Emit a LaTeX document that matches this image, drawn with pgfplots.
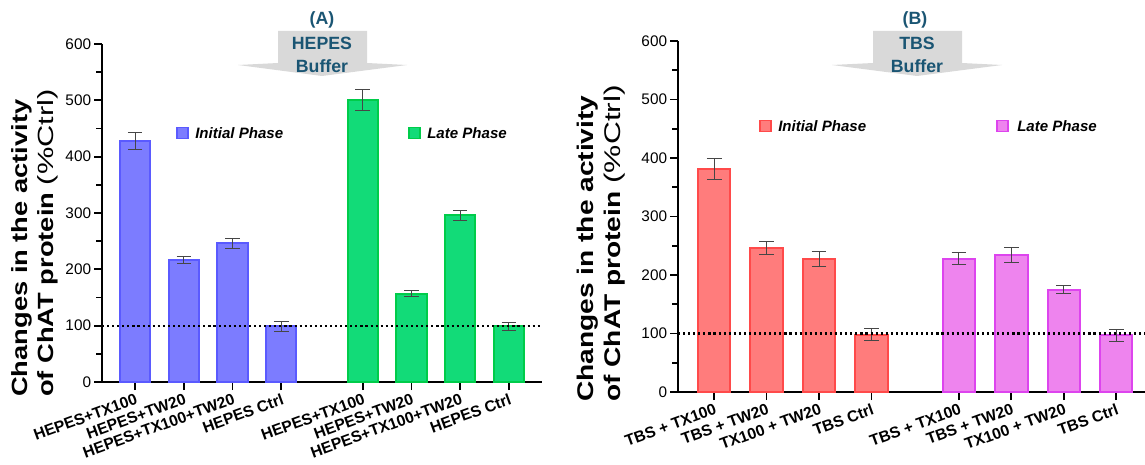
\documentclass[border=0pt]{standalone}
\usepackage{fontspec}
\setmainfont{Liberation Sans}
\newfontfamily\widefont[FakeStretch=1.24]{Liberation Sans}
\newfontfamily\widereg[FakeStretch=1.4]{Liberation Sans}
\usepackage{pgfplots}
\pgfplotsset{compat=1.18}
\definecolor{blueF}{HTML}{7C7CFF}
\definecolor{blueE}{HTML}{5A5AFF}
\definecolor{greenF}{HTML}{12DB78}
\definecolor{greenE}{HTML}{00CC4A}
\definecolor{redF}{HTML}{FF7C7C}
\definecolor{redE}{HTML}{FF4A4A}
\definecolor{magF}{HTML}{EE84EE}
\definecolor{magE}{HTML}{DD44EE}
\definecolor{teal}{RGB}{26,85,115}
\definecolor{bann}{RGB}{217,217,217}
\definecolor{errc}{RGB}{70,70,70}

\pgfplotstableread{
x y e
0 428 15
1 217 6
2 246 9
3 99 9
}\AInit
\pgfplotstableread{
x y e
4.67 501 19
5.67 157 5
6.67 296 9
7.67 99 7
}\ALate
\pgfplotstableread{
x y e
0 381 18
1 246 11
2 227 13
3 98 10
}\BInit
\pgfplotstableread{
x y e
4.67 228 10
5.67 234 13
6.67 175 7
7.67 97 10
}\BLate

\pgfplotsset{
  panel/.style={
    scale only axis, anchor=south west, clip=false,
    axis x line*=bottom, axis y line*=left,
    axis line style={line width=1.6pt,-},
    ymin=0, ymax=600, ytick={0,100,...,600}, minor ytick={50,150,...,550},
    tick align=outside, major tick length=6pt, minor tick length=4.5pt,
    tick style={line width=1.3pt, black},
    xtick={0,1,2,3,4.67,5.67,6.67,7.67},
    xticklabel style={rotate=20, anchor=north east, inner sep=1pt, yshift=-1pt,
      font=\bfseries\fontsize{11.8}{13}\selectfont},
    yticklabel style={font=\fontsize{11.5}{13}\selectfont, inner sep=2pt},
    /pgf/number format/assume math mode=true,
  },
  bars/.style={ybar, bar width=0.62, bar shift=0pt, line width=1.5pt,
    error bars/y dir=both, error bars/y explicit,
    error bars/error bar style={line width=0.7pt, color=errc},
    error bars/error mark options={rotate=90, mark size=5.5pt, line width=0.7pt, color=errc}},
}

\begin{document}
\begin{tikzpicture}[x=0.75pt,y=0.75pt]
\useasboundingbox (0,0) rectangle (1145,464);

% ---- banners
\fill[bann] (278,433) -- (367,433) -- (367,401) -- (407,399) -- (322,388) -- (238,399) -- (278,401) -- cycle;
\fill[bann] (873,433) -- (962,433) -- (962,401) -- (1002,399) -- (917,388) -- (832,399) -- (873,401) -- cycle;
\begin{scope}[every node/.style={font=\bfseries\fontsize{13.3}{15}\selectfont, text=teal, inner sep=0pt}]
\node at (322,444) {(A)};
\node at (322,421) {HEPES};
\node at (322,398) {Buffer};
\node at (915,444) {(B)};
\node at (917,421) {TBS};
\node at (917,398) {Buffer};
\end{scope}

% ---- Panel A
\begin{axis}[panel, at={(76.5pt,61.5pt)}, width=330pt, height=253.5pt,
  xmin=-0.68, xmax=8.35,
  xticklabels={HEPES+TX100,HEPES+TW20,HEPES+TX100+TW20,HEPES Ctrl,HEPES+TX100,HEPES+TW20,HEPES+TX100+TW20,HEPES Ctrl}]
\addplot[bars, fill=blueF, draw=blueE] table[x=x,y=y,y error=e] {\AInit};
\addplot[bars, fill=greenF, draw=greenE] table[x=x,y=y,y error=e] {\ALate};
\addplot[black, line width=1.6pt, dash pattern=on 1.6pt off 2.2pt] coordinates {(-0.68,100) (8.35,100)};
\end{axis}

% ---- Panel B
\begin{axis}[panel, at={(508.5pt,54pt)}, width=350.25pt, height=263.25pt,
  xmin=-0.69, xmax=8.22,
  xticklabels={TBS + TX100,TBS + TW20,TX100 + TW20,TBS Ctrl,TBS + TX100,TBS + TW20,TX100 + TW20,TBS Ctrl}]
\addplot[bars, fill=redF, draw=redE] table[x=x,y=y,y error=e] {\BInit};
\addplot[bars, fill=magF, draw=magE] table[x=x,y=y,y error=e] {\BLate};
\addplot[black, line width=1.6pt, dash pattern=on 1.6pt off 2.2pt] coordinates {(-0.69,100) (8.22,100)};
\end{axis}

% ---- legends
\begin{scope}[every node/.style={font=\bfseries\itshape\fontsize{11.3}{13}\selectfont, anchor=west, inner sep=0pt}]
\draw[fill=blueF, draw=blueE, line width=1.3pt] (177,325.5) rectangle ++(11,11);
\node at (195,331) {Initial Phase};
\draw[fill=greenF, draw=greenE, line width=1.3pt] (409,325.5) rectangle ++(11,11);
\node at (427,331) {Late Phase};
\draw[fill=redF, draw=redE, line width=1.3pt] (760,332.5) rectangle ++(11,11);
\node at (778,338) {Initial Phase};
\draw[fill=magF, draw=magE, line width=1.3pt] (997,332.5) rectangle ++(11,11);
\node at (1017,338) {Late Phase};
\end{scope}

% ---- y labels
\node[rotate=90, anchor=west, align=left, inner sep=0pt, font=\widefont\fontsize{16.5}{19.5}\selectfont] at (35,67)
  {\bfseries Changes in the activity\\{\bfseries of ChAT protein} {\widereg(\%Ctrl)}};
\node[rotate=90, anchor=west, align=left, inner sep=0pt, font=\widefont\fontsize{17}{20.5}\selectfont] at (601,62)
  {\bfseries Changes in the activity\\{\bfseries of ChAT protein} {\widereg(\%Ctrl)}};
\end{tikzpicture}
\end{document}
